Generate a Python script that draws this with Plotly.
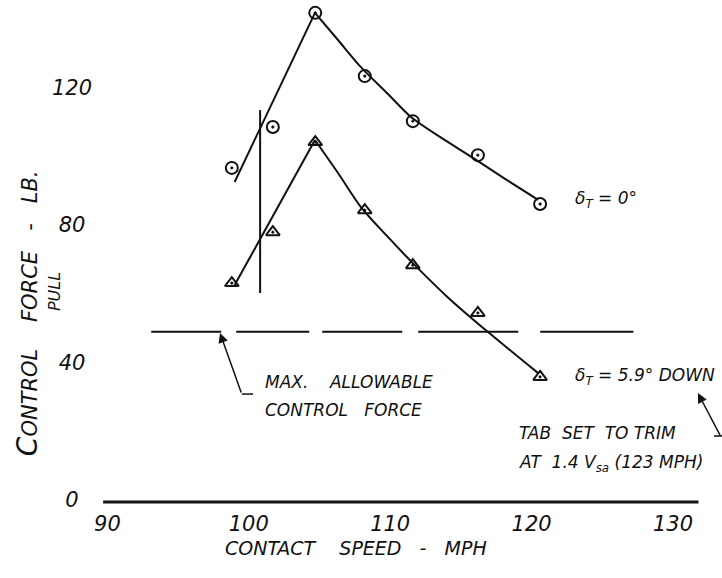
import plotly.graph_objects as go

# ---------------- data ----------------
speed = [98.8, 101.7, 104.7, 108.2, 111.6, 116.2, 120.6]
force_tab0 = [97.2, 109.1, 142.3, 123.9, 110.8, 100.9, 86.7]
force_tab59 = [63.7, 78.5, 104.7, 84.9, 68.9, 55.0, 36.4]

# faired curves: rising (straight) part and falling (curved) part
fit0_rise_x = [99.0, 104.68]
fit0_rise_y = [93.1, 142.3]
fit0_fall_x = [104.68, 106.31, 107.93, 109.84, 111.47, 113.52, 115.86, 118.12, 120.46]
fit0_fall_y = [142.3, 134.4, 126.5, 118.7, 112.0, 106.2, 100.1, 94.0, 87.9]
fit59_rise_x = [99.0, 104.68]
fit59_rise_y = [63.1, 105.3]
fit59_fall_x = [104.68, 106.31, 107.93, 109.77, 111.6, 114.14, 116.9, 120.46]
fit59_fall_y = [105.3, 95.7, 85.8, 77.4, 69.5, 59.3, 49.5, 37.5]

max_force = 49.5
max_force_x = [93.1, 127.2]
vline_x = 100.8
vline_y = [60.8, 114.0]
axis_x = [89.7, 131.8]

x_ticks = [90, 100, 110, 120, 130]
y_ticks = [0, 40, 80, 120]

FONT = "DejaVu Sans"
BLACK = "#111111"

fig = go.Figure()

# fitted curves
for xs, ys, shp in [(fit0_rise_x, fit0_rise_y, "linear"), (fit0_fall_x, fit0_fall_y, "spline"),
                    (fit59_rise_x, fit59_rise_y, "linear"), (fit59_fall_x, fit59_fall_y, "spline")]:
    fig.add_trace(go.Scatter(x=xs, y=ys, mode="lines",
                             line=dict(color=BLACK, width=2, shape=shp, smoothing=0.8)))
# data points
fig.add_trace(go.Scatter(x=speed, y=force_tab0, mode="markers",
                         marker=dict(symbol="circle-open-dot", size=12, color=BLACK,
                                     line=dict(width=2, color=BLACK))))
fig.add_trace(go.Scatter(x=speed, y=force_tab59, mode="markers",
                         marker=dict(symbol="triangle-up-open-dot", size=12, color=BLACK,
                                     line=dict(width=2, color=BLACK))))
# max allowable dashed line
fig.add_trace(go.Scatter(x=max_force_x, y=[max_force, max_force], mode="lines",
                         line=dict(color=BLACK, width=2,
                                   dash="70px,15px,73px,13px,80px,16px,100px,22px,200px")))
# vertical line
fig.add_trace(go.Scatter(x=[vline_x, vline_x], y=vline_y, mode="lines",
                         line=dict(color=BLACK, width=2)))
# drawn x axis
fig.add_trace(go.Scatter(x=axis_x, y=[0, 0], mode="lines",
                         line=dict(color=BLACK, width=3)))

# tick labels
fig.add_trace(go.Scatter(x=x_ticks, y=[-7.0] * len(x_ticks), mode="text",
                         text=[str(t) for t in x_ticks],
                         textfont=dict(family=FONT, size=21, color=BLACK, style="italic")))
fig.add_trace(go.Scatter(x=[87.5] * len(y_ticks), y=y_ticks, mode="text",
                         text=[str(t) for t in y_ticks],
                         textfont=dict(family=FONT, size=21, color=BLACK, style="italic")))

def note(x, y, text, size=15, xanchor="left", angle=0):
    fig.add_annotation(x=x, y=y, text=text, showarrow=False, xanchor=xanchor,
                       yanchor="middle", textangle=angle,
                       font=dict(family=FONT, size=size, color=BLACK, style="italic"))

nb = "\u00a0"
note(122.9, 87.9, f"δ<sub>T</sub>{nb}={nb}0°", size=17)
note(122.9, 36.4, f"δ<sub>T</sub>{nb}={nb}5.9°{nb}DOWN", size=17)
note(101.0, 34.9, f"MAX.{nb}{nb}{nb}{nb}ALLOWABLE", size=17)
note(101.0, 26.8, f"CONTROL{nb}{nb}{nb}FORCE", size=17)
note(119.0, 20.1, f"TAB{nb}{nb}SET{nb}{nb}TO{nb}TRIM", size=17)
note(119.0, 11.3, f"AT{nb}{nb}1.4{nb}V<sub>sa</sub>{nb}(123{nb}MPH)", size=17)
note(107.6, -13.4, f"CONTACT{nb}{nb}{nb}{nb}SPEED{nb}{nb}{nb}-{nb}{nb}{nb}MPH", size=19, xanchor="center")
note(84.4, 55.0,
     f"<span style='font-size:28px'>C</span>ONTROL{nb}{nb}{nb}{nb}FORCE{nb}{nb}{nb}-{nb}{nb}{nb}LB.",
     size=21, xanchor="center", angle=-90)
note(86.3, 61.1, "PULL", size=16, xanchor="center", angle=-90)

# leader arrows
fig.add_annotation(x=97.96, y=49.2, ax=99.5, ay=31.4, axref="x", ayref="y",
                   xref="x", yref="y", text="", showarrow=True,
                   arrowhead=2, arrowsize=1.3, arrowwidth=1.5, arrowcolor=BLACK)
fig.add_shape(type="line", x0=99.5, y0=31.4, x1=100.3, y1=31.4,
              line=dict(color=BLACK, width=1.5))
fig.add_annotation(x=131.76, y=31.7, ax=133.4, ay=18.9, axref="x", ayref="y",
                   xref="x", yref="y", text="", showarrow=True,
                   arrowhead=2, arrowsize=1.3, arrowwidth=1.5, arrowcolor=BLACK)
fig.add_shape(type="line", x0=132.9, y0=19.2, x1=133.5, y1=19.2,
              line=dict(color=BLACK, width=1.5))

fig.update_layout(
    width=722, height=578,
    margin=dict(l=0, r=0, t=0, b=0),
    paper_bgcolor="white", plot_bgcolor="white",
    showlegend=False,
    xaxis=dict(range=[82.405, 133.465], visible=False, fixedrange=True),
    yaxis=dict(range=[-22.11, 146.04], visible=False, fixedrange=True),
)

fig.write_html("out.html")
